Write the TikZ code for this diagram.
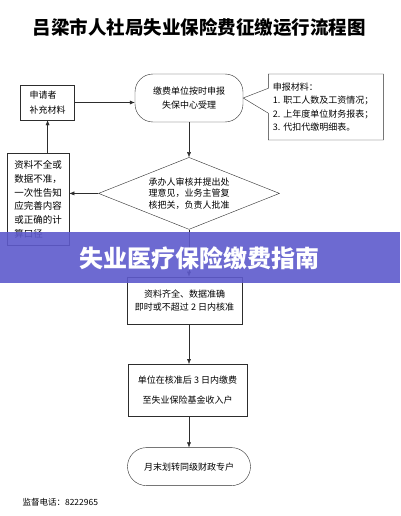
\documentclass[tikz,border=0pt]{standalone}
\usepackage{fontspec}
\setmainfont{Noto Sans CJK SC}
\usetikzlibrary{positioning,arrows.meta,shapes.geometric,shapes.callouts}
\definecolor{bannerblue}{RGB}{94,90,204}
\definecolor{edge}{RGB}{45,45,45}

\begin{document}
\begin{tikzpicture}[
  x=1pt,y=-1pt,
  font=\fontsize{9}{13.5}\selectfont,
  box/.style={draw=edge,align=center,inner sep=0pt},
  leftbox/.style={box,align=left},
  pill/.style={box,rounded corners=18pt},
  decide/.style={draw=edge,diamond,aspect=2.5,inner sep=0pt,minimum width=181pt,minimum height=72pt,align=center,font=\fontsize{9}{11.5}\selectfont},
  note/.style={draw=edge,rectangle callout,align=left,text width=106pt,inner xsep=4.5pt,minimum height=66pt,callout pointer width=25pt},
  ar/.style={-{Latex[length=5pt,width=4pt]},edge,thin}
]
\useasboundingbox (0,0) rectangle (400,516);
\fill[white] (0,0) rectangle (400,516);

\node[font=\fontsize{18.5}{20}\selectfont\bfseries] (title) at (199,27) {吕梁市人社局失业保险费征缴运行流程图};

\node[pill,minimum width=108pt,minimum height=48pt] (accept) at (189,98) {缴费单位按时申报\\失保中心受理};
\node[leftbox,left=60pt of accept,yshift=-4.5pt,minimum width=54pt,minimum height=35pt,font=\fontsize{9}{15.5}\selectfont] (supply) {申请者\\补充材料};
\node[note,right=25pt of accept,yshift=-9pt,callout absolute pointer={(accept.east)}] (docs) {申报材料：\\1.\ 职工人数及工资情况；\\2.\ 上年度单位财务报表；\\3.\ 代扣代缴明细表。};

\node[decide,below=35pt of accept] (check) {承办人审核并提出处\\理意见，业务主管复\\核把关，负责人批准};
\node[leftbox,left=29pt of check,yshift=-6pt,minimum width=62pt,minimum height=92pt,font=\fontsize{9.5}{13.8}\selectfont] (reject) {资料不全或\\数据不准，\\一次性告知\\应完善内容\\或正确的计\\算口径};

\node[box,below=47pt of check,xshift=-4.5pt,minimum width=115pt,minimum height=47pt] (ok) {资料齐全、数据准确\\即时或不超过 2 日内核准};
\node[box,below=40pt of ok,xshift=3pt,minimum width=119pt,minimum height=52pt,font=\fontsize{9}{20}\selectfont] (pay) {单位在核准后 3 日内缴费\\至失业保险基金收入户};
\node[pill,below=31pt of pay,xshift=1.5pt,rounded corners=19pt,minimum width=123pt,minimum height=38pt] (transfer) {月末划转同级财政专户};

\node[anchor=west,font=\fontsize{8.5}{10}\selectfont] (phone) at (19,502) {监督电话：8222965};

\draw[ar] (supply) -- (supply -| accept.west);
\draw[ar] (accept) -- (check);
\draw[ar] (check.west) -- (check.west -| reject.east);
\draw[ar] (reject.north -| supply.south) -- (supply.south);
\draw[ar] (check.south) -- (check.south |- ok.north);
\draw[ar] (ok.south -| check.south) -- (pay.north -| check.south);
\draw[ar] (pay.south -| check.south) -- (transfer.north -| check.south);

% banner over the chart
\fill[bannerblue,fill opacity=0.9] (0,232) rectangle (400,283);
\node[white,font=\fontsize{24}{26}\selectfont\bfseries] (banner) at (199,258) {失业医疗保险缴费指南};
\end{tikzpicture}
\end{document}
